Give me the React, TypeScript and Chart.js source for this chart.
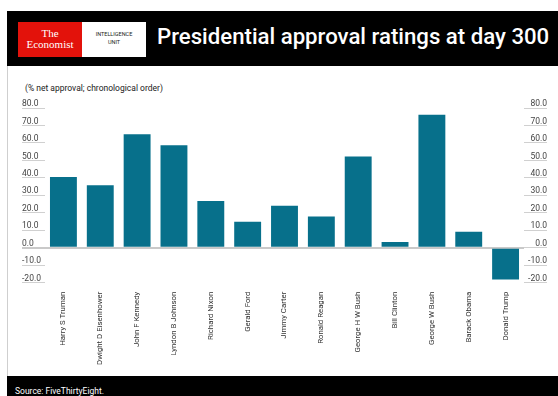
import React, { useEffect, useRef } from "react";
import { Chart, registerables } from "chart.js";

Chart.register(...registerables);

const categories = [
  "Harry S Truman",
  "Dwight D Eisenhower",
  "John F Kennedy",
  "Lyndon B Johnson",
  "Richard Nixon",
  "Gerald Ford",
  "Jimmy Carter",
  "Ronald Reagan",
  "George H W Bush",
  "Bill Clinton",
  "George W Bush",
  "Barack Obama",
  "Donald Trump",
];
const netApproval = [40.5, 35.8, 65, 58.7, 26.7, 14.9, 24, 17.9, 52.2, 3.3, 76.2, 9.1, -18.1];
const yMin = -20;
const yMax = 80;
const yStep = 10;
const titleText = "Presidential approval ratings at day 300";
const subtitleText = "(% net approval; chronological order)";
const sourceText = "Source: FiveThirtyEight.";

const FONT = "Roboto, 'DejaVu Sans', sans-serif";
const BAR = "#07708b";

export default function App() {
  const ref = useRef<HTMLCanvasElement | null>(null);

  useEffect(() => {
    if (!ref.current) return;
    const tickFont = { family: FONT, size: 8.5 };
    const chart = new Chart(ref.current, {
      type: "bar",
      data: {
        labels: categories,
        datasets: [
          {
            data: netApproval,
            backgroundColor: BAR,
            borderWidth: 0,
            barPercentage: 0.73,
            categoryPercentage: 1,
            yAxisID: "y",
          },
        ],
      },
      options: {
        responsive: false,
        animation: false,
        layout: { padding: { left: 22, right: 11, top: 13, bottom: 0 } },
        plugins: { legend: { display: false }, tooltip: { enabled: false }, title: { display: false } },
        scales: {
          x: {
            grid: { display: false },
            border: { display: false },
            ticks: {
              autoSkip: false,
              maxRotation: 90,
              minRotation: 90,
              padding: 1,
              color: "#333",
              font: { family: FONT, size: 7.8 },
            },
            afterFit: (s: any) => {
              s.height = 93.3;
            },
          },
          y: {
            position: "left",
            min: yMin,
            max: yMax,
            border: { display: false },
            grid: {
              drawOnChartArea: true,
              drawTicks: true,
              tickLength: 23,
              color: (c: any) => (c.tick && c.tick.value === 0 ? "#c9c9c9" : "rgba(0,0,0,0)"),
              lineWidth: (c: any) => (c.tick && c.tick.value === 0 ? 2 : 1),
              tickColor: (c: any) => (c.tick && c.tick.value === 0 ? "#c9c9c9" : "#d0d0d0"),
              tickWidth: (c: any) => (c.tick && c.tick.value === 0 ? 2 : 1),
            },
            ticks: {
              stepSize: yStep,
              crossAlign: "far",
              padding: 0,
              labelOffset: -4,
              color: "#444",
              font: tickFont,
              callback: (v: any) => Number(v).toFixed(1),
            },
            afterFit: (s: any) => {
              s.width = 23;
            },
          },
          y2: {
            position: "right",
            min: yMin,
            max: yMax,
            border: { display: false },
            grid: {
              drawOnChartArea: false,
              drawTicks: true,
              tickLength: 23,
              tickColor: "#d0d0d0",
              tickWidth: 1,
            },
            ticks: {
              stepSize: yStep,
              crossAlign: "far",
              padding: 0,
              labelOffset: -4,
              color: "#444",
              font: tickFont,
              callback: (v: any) => Number(v).toFixed(1),
            },
            afterFit: (s: any) => {
              s.width = 23;
            },
          },
        },
      },
    } as any);
    return () => chart.destroy();
  }, []);

  return (
    <div
      style={{
        position: "fixed",
        left: 0,
        top: 0,
        width: 558,
        height: 396,
        background: "#fff",
        overflow: "hidden",
        fontFamily: FONT,
      }}
    >
      {/* header */}
      <div style={{ position: "absolute", left: 7, top: 11, width: 551, height: 55, background: "#000" }} />
      <div
        style={{
          position: "absolute",
          left: 18,
          top: 22,
          width: 64,
          height: 35,
          background: "#e3120b",
          color: "#fff",
          fontFamily: "'Liberation Serif', 'DejaVu Serif', serif",
          fontSize: 11,
          lineHeight: "11px",
          textAlign: "center",
          paddingTop: 6,
          boxSizing: "border-box",
        }}
      >
        <div>The</div>
        <div>Economist</div>
      </div>
      <div
        style={{
          position: "absolute",
          left: 82,
          top: 22,
          width: 64,
          height: 35,
          background: "#fff",
          color: "#222",
          fontFamily: FONT,
          fontSize: 5.5,
          lineHeight: "8px",
          textAlign: "center",
          paddingTop: 8,
          boxSizing: "border-box",
        }}
      >
        <div>INTELLIGENCE</div>
        <div>UNIT</div>
      </div>
      <div
        style={{
          position: "absolute",
          left: 157,
          top: 24,
          color: "#fff",
          fontFamily: FONT,
          fontWeight: 500,
          fontSize: 22.2,
          lineHeight: "24px",
          whiteSpace: "nowrap",
        }}
      >
        {titleText}
      </div>
      {/* left border */}
      <div style={{ position: "absolute", left: 7, top: 66, width: 1, height: 310, background: "#cfcfcf" }} />
      {/* subtitle */}
      <div
        style={{
          position: "absolute",
          left: 25,
          top: 82,
          color: "#222",
          fontSize: 8.5,
          lineHeight: "12px",
          whiteSpace: "nowrap",
        }}
      >
        {subtitleText}
      </div>
      <canvas
        ref={ref}
        width={558}
        height={281}
        style={{ position: "absolute", left: 0, top: 95, width: 558, height: 281 }}
      />
      {/* footer */}
      <div style={{ position: "absolute", left: 7, top: 376, width: 551, height: 20, background: "#000" }} />
      <div
        style={{
          position: "absolute",
          left: 15,
          top: 385,
          color: "#fff",
          fontSize: 8.5,
          lineHeight: "12px",
          whiteSpace: "nowrap",
        }}
      >
        {sourceText}
      </div>
    </div>
  );
}
